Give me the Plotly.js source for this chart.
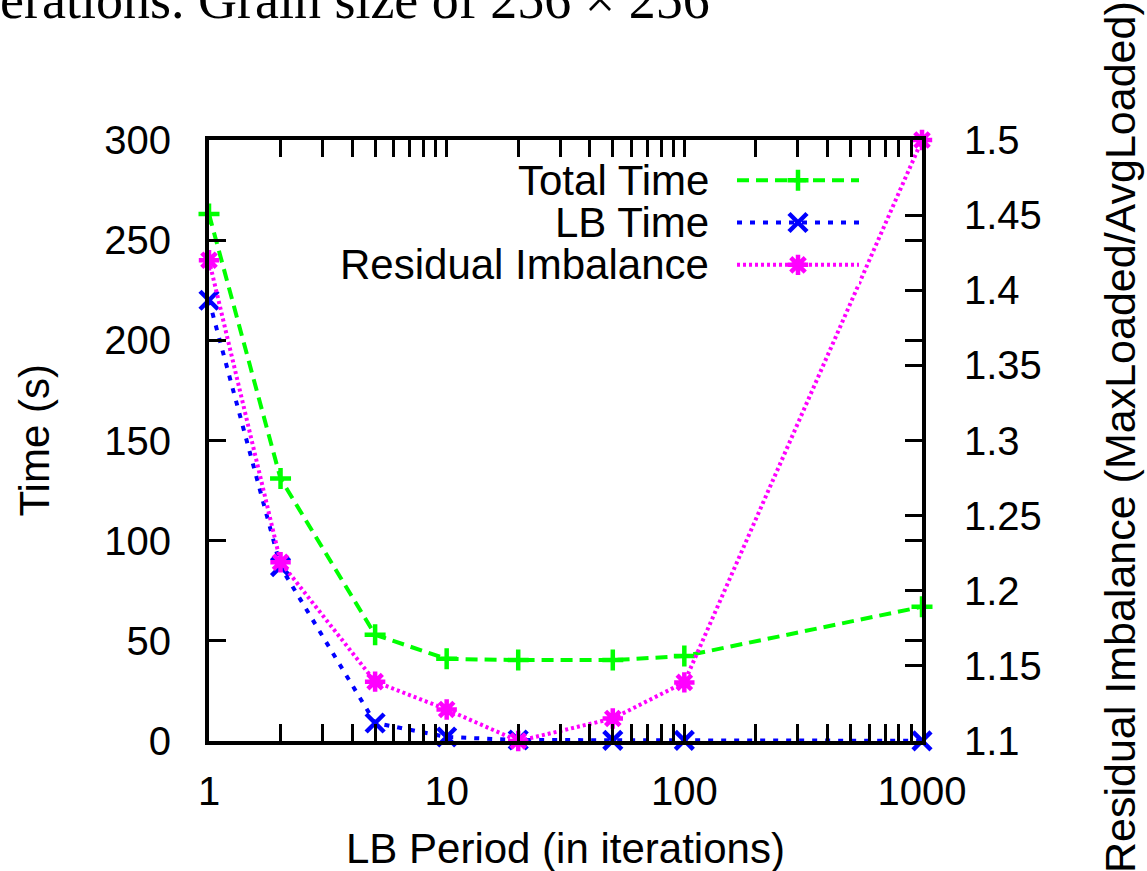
<!DOCTYPE html>
<html>
<head>
<meta charset="utf-8">
<script src="https://cdn.plot.ly/plotly-3.0.1.min.js"></script>
<style>
  html, body { margin: 0; padding: 0; background: #ffffff; }
  #chart { width: 1147px; height: 871px; }
</style>
</head>
<body>
<div id="chart"></div>
<script>
// ---- data ----
const lbPeriods = [1, 2, 5, 10, 20, 50, 100, 1000];
const totalTime = [263, 131, 53, 41, 40.4, 40.4, 42.4, 67];
const lbTime = [220, 87, 9, 2, 0.5, 0.3, 0.3, 0.1];
const residualImbalance = [1.42, 1.219, 1.1395, 1.121, 1.1, 1.115, 1.139, 1.5];

const seriesNames = ["Total Time", "LB Time", "Residual Imbalance"];

const xTickVals = [1, 10, 100, 1000];
const xTickText = ["1", "10", "100", "1000"];
const xMinorVals = [2, 3, 4, 5, 6, 7, 8, 9, 20, 30, 40, 50, 60, 70, 80, 90, 200, 300, 400, 500, 600, 700, 800, 900];
const yTickVals = [0, 50, 100, 150, 200, 250, 300];
const y2TickVals = [1.1, 1.15, 1.2, 1.25, 1.3, 1.35, 1.4, 1.45, 1.5];
const y2TickText = ["1.1", "1.15", "1.2", "1.25", "1.3", "1.35", "1.4", "1.45", "1.5"];

// legend key helper arrays (position along key sample, row slots)
const keyLineX = [0, 1];
const keyMarkX = [0.5];
const keyRows = [2.5, 1.5, 0.5];

// ---- styles ----
const GREEN = "#00ff00", BLUE = "#0000ff", MAGENTA = "#ff00ff";
const SANS = "Liberation Sans, Arial, sans-serif";
const styles = [
  {color: GREEN, dash: "12px,7px", symbol: "cross-thin", size: 15},
  {color: BLUE, dash: "5px,8px", symbol: "x-thin", size: 18},
  {color: MAGENTA, dash: "3px,3px", symbol: "asterisk-open", size: 17}
];
const seriesY = [totalTime, lbTime, residualImbalance];
const seriesAxis = ["y", "y", "y2"];

const traces = [];
for (let i = 0; i < 3; i++) {
  const s = styles[i];
  traces.push({
    x: lbPeriods, y: seriesY[i], yaxis: seriesAxis[i], xaxis: "x",
    type: "scatter", mode: "lines+markers", name: seriesNames[i],
    cliponaxis: false, showlegend: false, hoverinfo: "skip",
    line: {color: s.color, width: 4, dash: s.dash},
    marker: {symbol: s.symbol, size: s.size, color: s.color, line: {color: s.color, width: 4.5}}
  });
}
// legend keys (gnuplot style: sample to the right of right-aligned text)
for (let i = 0; i < 3; i++) {
  const s = styles[i];
  traces.push({
    x: keyLineX, y: [keyRows[i], keyRows[i]], xaxis: "x3", yaxis: "y3",
    type: "scatter", mode: "lines", showlegend: false, hoverinfo: "skip", cliponaxis: false,
    line: {color: s.color, width: 4, dash: s.dash}
  });
  traces.push({
    x: keyMarkX, y: [keyRows[i]], xaxis: "x3", yaxis: "y3",
    type: "scatter", mode: "markers", showlegend: false, hoverinfo: "skip", cliponaxis: false,
    marker: {symbol: s.symbol, size: s.size, color: s.color, line: {color: s.color, width: 4.5}}
  });
}

// plot area geometry (pixels)
const L = 209, R = 922, T = 140, B = 741, W = 1147, H = 871;
const pw = R - L, ph = B - T;
const px = v => (v - L) / pw;
const py = v => (B - v) / ph;

const legendAnn = seriesNames.map((n, i) => ({
  text: n, xref: "paper", yref: "y3", x: px(711), y: keyRows[i],
  xanchor: "right", yanchor: "middle", showarrow: false,
  font: {family: SANS, size: 42, color: "#000"}
}));

const layout = {
  width: W, height: H,
  margin: {l: L, r: W - R, t: T, b: H - B, pad: 0},
  paper_bgcolor: "#fff", plot_bgcolor: "#fff",
  showlegend: false,
  font: {family: SANS, size: 39, color: "#000"},
  xaxis: {
    type: "log", range: [0, 3], tickmode: "array", tickvals: xTickVals, ticktext: xTickText,
    ticks: "inside", ticklen: 17, tickwidth: 3, tickcolor: "#000",
    minor: {tickmode: "array", tickvals: xMinorVals, ticks: "inside", ticklen: 9, tickwidth: 3, tickcolor: "#000", showgrid: false},
    showline: true, linewidth: 4, linecolor: "#000", mirror: "allticks",
    showgrid: false, zeroline: false, ticklabelstandoff: 12,
    tickfont: {family: SANS, size: 40, color: "#000"}
  },
  yaxis: {
    range: [0, 300], tickmode: "array", tickvals: yTickVals,
    ticks: "inside", ticklen: 17, tickwidth: 3, tickcolor: "#000",
    showline: true, linewidth: 4, linecolor: "#000", mirror: "allticks",
    showgrid: false, zeroline: false, ticklabelstandoff: 26,
    tickfont: {family: SANS, size: 40, color: "#000"}
  },
  yaxis2: {
    overlaying: "y", side: "right", range: [1.1, 1.5],
    tickmode: "array", tickvals: y2TickVals, ticktext: y2TickText,
    ticks: "inside", ticklen: 17, tickwidth: 3, tickcolor: "#000",
    showline: true, linewidth: 4, linecolor: "#000",
    showgrid: false, zeroline: false, ticklabelstandoff: 30,
    tickfont: {family: SANS, size: 40, color: "#000"}
  },
  xaxis3: {domain: [px(737), px(859)], range: [0, 1], visible: false, fixedrange: true, anchor: "y3"},
  yaxis3: {domain: [0.757, 0.9684], range: [0, 3], visible: false, fixedrange: true, anchor: "x3"},
  annotations: [
    {text: "LB Period (in iterations)", xref: "paper", yref: "paper", x: 0.5, y: py(848),
     xanchor: "center", yanchor: "middle", showarrow: false, font: {family: SANS, size: 42, color: "#000"}},
    {text: "Time (s)", xref: "paper", yref: "paper", x: px(34), y: 0.5, textangle: -90,
     xanchor: "center", yanchor: "middle", showarrow: false, font: {family: SANS, size: 42, color: "#000"}},
    {text: "Residual Imbalance (MaxLoaded/AvgLoaded)", xref: "paper", yref: "paper", x: px(1120), y: py(437), textangle: -90,
     xanchor: "center", yanchor: "middle", showarrow: false, font: {family: SANS, size: 43, color: "#000"}},
    {text: "erations. Grain size of 256 × 256", xref: "paper", yref: "paper", x: px(-2), y: py(32),
     xanchor: "left", yanchor: "bottom", showarrow: false, font: {family: "Liberation Serif, Times New Roman, serif", size: 54, color: "#000"}}
  ].concat(legendAnn)
};

Plotly.newPlot("chart", traces, layout, {staticPlot: true, displayModeBar: false});
</script>
</body>
</html>
